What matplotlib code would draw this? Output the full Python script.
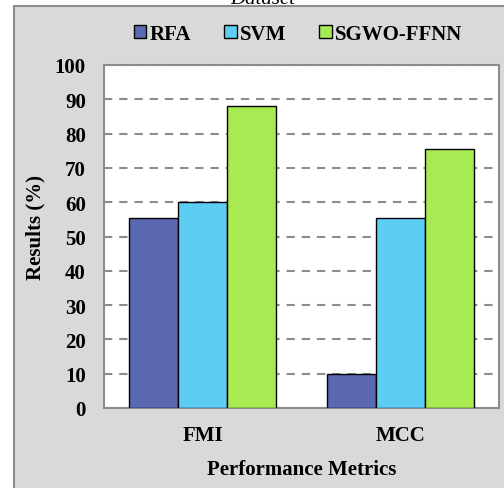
import numpy as np
import matplotlib.pyplot as plt
from matplotlib.patches import Rectangle

plt.rcParams['font.family'] = ['Liberation Serif', 'DejaVu Serif']

metrics = ["FMI", "MCC"]
methods = ["RFA", "SVM", "SGWO-FFNN"]
rfa = [55.5, 10.0]
svm = [60.0, 55.5]
sgwo = [88.0, 75.4]
colors = ["#5A67B1", "#5DCDF3", "#A8EA52"]
yticks = [0, 10, 20, 30, 40, 50, 60, 70, 80, 90, 100]

fig = plt.figure(figsize=(5.04, 4.89), dpi=100)
fig.patch.set_facecolor("white")

# grey chart-area box, slightly cropped at the top and left
fig.add_artist(Rectangle((14 / 504, -0.05), 1.0, 1.05 - 7 / 489,
                         transform=fig.transFigure, facecolor="#d9d9d9",
                         edgecolor="#8c8c8c", linewidth=1.5, zorder=0))
fig.text(263 / 504, 1 - 4 / 489, "Dataset", ha="center", va="baseline",
         fontsize=15, style="italic")

ax = fig.add_axes([104 / 504, 80 / 489, 395 / 504, 343 / 489])
ax.set_facecolor("white")

x = np.arange(len(metrics)) + 0.5
w = 0.248
for i, (vals, lab) in enumerate(zip([rfa, svm, sgwo], methods)):
    ax.bar(x + (i - 1) * w, vals, w, color=colors[i], edgecolor="black",
           linewidth=1.0, label=lab, zorder=3)

ax.set_xlim(0, 2)
ax.set_ylim(0, 100)
ax.set_yticks(yticks)
ax.set_xticks(x)
ax.set_xticklabels(metrics, fontsize=15, fontweight="bold")
ax.set_yticklabels([str(t) for t in yticks], fontsize=15, fontweight="bold")
ax.tick_params(axis="both", length=0)
ax.tick_params(axis="y", pad=13)
ax.tick_params(axis="x", pad=12)
ax.yaxis.grid(True, color="#8c8c8c", linestyle=(0, (4, 3.3)), linewidth=1.5, zorder=0)
ax.set_axisbelow(True)
for s in ax.spines.values():
    s.set_color("#8c8c8c")
    s.set_linewidth(1.5)

ax.set_ylabel("Results (%)", fontsize=15, fontweight="bold", labelpad=10)
ax.yaxis.set_label_coords(-0.148, 0.53)
ax.set_xlabel("Performance Metrics", fontsize=15, fontweight="bold", labelpad=10)

fig.legend(loc="center", bbox_to_anchor=(298 / 504, 1 - 35 / 489), ncol=3,
           frameon=False, prop={"size": 15, "weight": "bold"},
           handlelength=0.6, handleheight=0.6, handletextpad=0.15,
           columnspacing=1.6)

fig.savefig("out.png", dpi=100)
